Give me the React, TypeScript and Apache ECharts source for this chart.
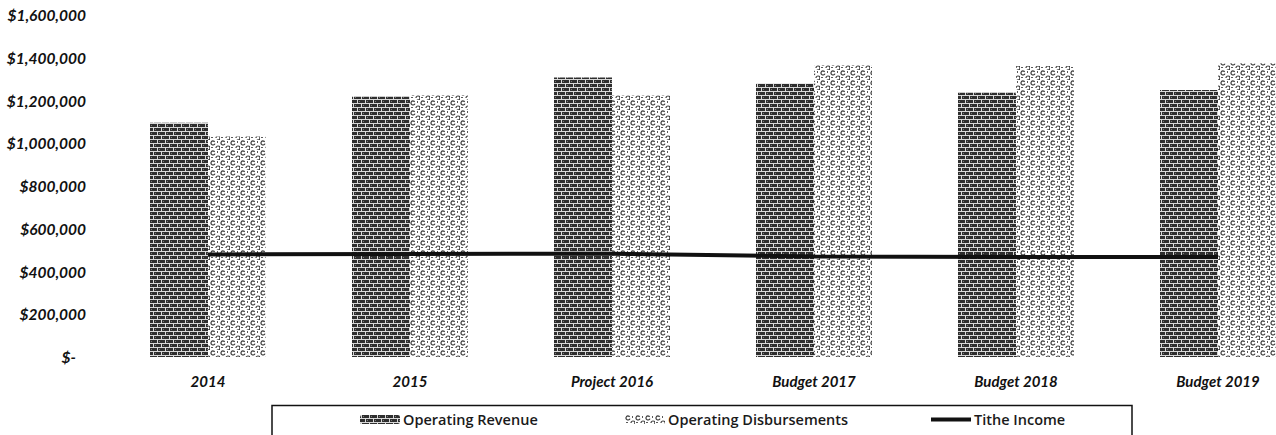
import React, { useEffect, useRef } from "react";
import * as echarts from "echarts";

const categories = ["2014", "2015", "Project 2016", "Budget 2017", "Budget 2018", "Budget 2019"];
const operatingRevenue = [1096000, 1218000, 1308000, 1280000, 1236000, 1249000];
const operatingDisbursements = [1031000, 1226000, 1224000, 1366000, 1361000, 1374000];
const titheIncome = [480000, 482000, 483000, 470000, 468000, 468000];
const yTicks = { min: 0, max: 1600000, interval: 200000 };
const seriesNames = ["Operating Revenue", "Operating Disbursements", "Tithe Income"];

function brickPattern(): HTMLCanvasElement {
  const c = document.createElement("canvas");
  c.width = 8;
  c.height = 8;
  const g = c.getContext("2d")!;
  g.fillStyle = "#2e2e2e";
  g.fillRect(0, 0, 8, 8);
  g.fillStyle = "#d8d8d8";
  g.fillRect(0, 3, 8, 1);
  g.fillRect(0, 7, 8, 1);
  g.fillRect(1, 0, 1, 3);
  g.fillRect(5, 4, 1, 3);
  g.fillStyle = "#7a7a7a";
  g.fillRect(3, 1, 1, 1);
  g.fillRect(7, 5, 1, 1);
  return c;
}

function loopPattern(): HTMLCanvasElement {
  const c = document.createElement("canvas");
  c.width = 10;
  c.height = 10;
  const g = c.getContext("2d")!;
  g.fillStyle = "#ffffff";
  g.fillRect(0, 0, 10, 10);
  g.strokeStyle = "#3c3c3c";
  g.lineWidth = 1.2;
  g.beginPath();
  g.arc(3, 3, 2, 0.3, Math.PI * 1.8);
  g.stroke();
  g.beginPath();
  g.arc(8, 8, 2, Math.PI, Math.PI * 2.7);
  g.stroke();
  g.fillStyle = "#5a5a5a";
  g.fillRect(7, 1, 1, 2);
  g.fillRect(1, 7, 2, 1);
  return c;
}

export default function App() {
  const ref = useRef<HTMLDivElement>(null);
  useEffect(() => {
    document.body.style.margin = "0";
    const chart = echarts.init(ref.current!, null, { renderer: "svg" });
    const revColor: any = { image: brickPattern(), repeat: "repeat" };
    const disColor: any = { image: loopPattern(), repeat: "repeat" };
    const labelFont = { fontFamily: "Lato", fontWeight: "bold" as const, fontStyle: "italic" as const, color: "#111" };
    const legendBase = {
      top: 412,
      padding: 0,
      itemWidth: 40,
      itemHeight: 9,
      textStyle: { fontFamily: "Open Sans", fontWeight: 600, fontSize: 14.5, color: "#1a1a1a", padding: [0, 0, 0, -2] },
    };
    chart.setOption({
      animation: false,
      backgroundColor: "#ffffff",
      grid: { left: 107, right: 0, top: 15, bottom: 78, containLabel: false, outerBoundsMode: "none" },
      xAxis: {
        type: "category",
        data: categories,
        axisLine: { show: false },
        axisTick: { show: false },
        axisLabel: { ...labelFont, fontSize: 15, margin: 16 },
      },
      yAxis: {
        type: "value",
        min: yTicks.min,
        max: yTicks.max,
        interval: yTicks.interval,
        axisLine: { show: false },
        axisTick: { show: false },
        splitLine: { show: false },
        axisLabel: {
          ...labelFont,
          fontSize: 15.5,
          margin: 21,
          formatter: (v: number) => (v === 0 ? "$-   " : "$" + v.toLocaleString("en-US")),
        },
      },
      legend: [
        { ...legendBase, left: 360, data: [seriesNames[0]] },
        { ...legendBase, left: 625, data: [seriesNames[1]] },
        { ...legendBase, left: 931, itemHeight: 4, data: [{ name: seriesNames[2], icon: "rect" }] },
      ],
      graphic: [
        {
          type: "rect",
          shape: { x: 272, y: 405.5, width: 860, height: 40 },
          style: { fill: "none", stroke: "#111", lineWidth: 1.5 },
          silent: true,
        },
      ],
      series: [
        {
          name: seriesNames[0],
          type: "bar",
          data: operatingRevenue,
          barWidth: 58,
          barGap: "0%",
          itemStyle: { color: revColor },
        },
        {
          name: seriesNames[1],
          type: "bar",
          data: operatingDisbursements,
          barWidth: 58,
          barGap: "0%",
          itemStyle: { color: disColor },
        },
        {
          name: seriesNames[2],
          type: "line",
          data: titheIncome,
          symbol: "none",
          lineStyle: { color: "#111", width: 4 },
          itemStyle: { color: "#111" },
        },
      ],
    });
    return () => chart.dispose();
  }, []);
  return (
    <div style={{ width: 1276, height: 435, overflow: "hidden" }}>
      <div ref={ref} style={{ width: 1319, height: 435 }} />
    </div>
  );
}
